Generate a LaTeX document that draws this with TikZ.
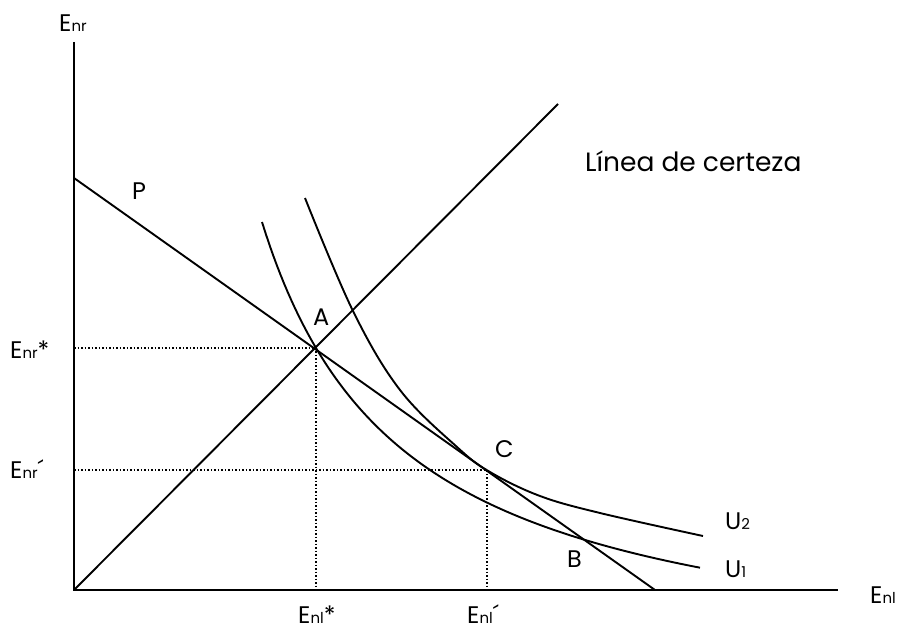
\documentclass[tikz,border=0pt]{standalone}
\usepackage{fontspec}
\setmainfont{Poppins}
\newcommand\lo[1]{{\fontsize{15}{15}\selectfont #1}}
\begin{document}
\begin{tikzpicture}[x=1pt,y=-1pt,
  axis/.style={line width=2.2pt},
  curve/.style={line width=1.9pt},
  guide/.style={line width=1.5pt, dotted},
  lbl/.style={inner sep=0pt, anchor=base west, font=\fontsize{24}{24}\selectfont}]
\useasboundingbox (0,0) rectangle (897,631);
\coordinate (O) at (74,590);
\coordinate (Ytop) at (74,42);
\coordinate (Xend) at (838,590);
\coordinate (D) at (558,104);
\coordinate (P0) at (74,178);
\coordinate (P1) at (655,590);
\coordinate (A) at (316,348);
\coordinate (C) at (487,470);
\coordinate (Ay) at (74,348);
\coordinate (Ax) at (316,590);
\coordinate (Cy) at (74,470);
\coordinate (Cx) at (487,590);
\draw[guide] (Ay) -- (A) -- (Ax);
\draw[guide] (Cy) -- (C) -- (Cx);
\draw[axis] (Ytop) -- (O) -- (Xend);
\draw[curve] (O) -- (D);
\draw[curve] (P0) -- (P1);
\draw[curve] plot[domain=262:700,samples=120] (\x,{680-651.7/((\x-119.7)/100)});
\draw[curve] plot[smooth, tension=0.6] coordinates {(305,198) (353,311) (400,390) (457,447) (490,472) (540,496) (600,513) (703,536)};
\node[lbl] (lenr) at (59,32) {E\lo{nr}};
\node[lbl] (lenl) at (870,603) {E\lo{nl}};
\node[lbl] (lenrs) at (10,358) {E\lo{nr}*};
\node[lbl] (lenrp) at (10,478) {E\lo{nr}´};
\node[lbl] (lenls) at (298,623) {E\lo{nl}*};
\node[lbl] (lenlp) at (467,623) {E\lo{nl}´};
\node[lbl] (lp) at (132,200) {P};
\node[lbl] (la) at (313,325) {A};
\node[lbl] (lc) at (495,457) {C};
\node[lbl] (lb) at (567,567) {B};
\node[lbl] (lu2) at (725,529) {U\lo{2}};
\node[lbl] (lu1) at (725,577) {U\lo{1}};
\node[lbl, font=\fontsize{26.5}{26.5}\selectfont] (lcert) at (585,172) {Línea de certeza};
\end{tikzpicture}
\end{document}
